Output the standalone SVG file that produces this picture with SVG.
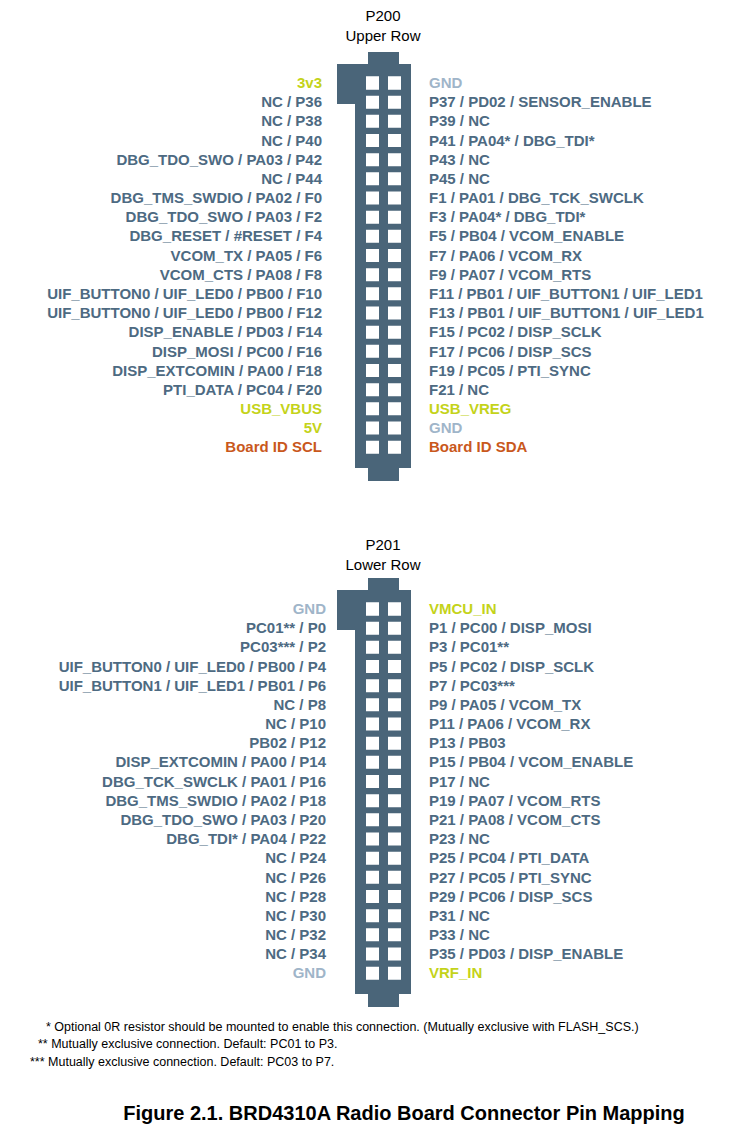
<svg xmlns="http://www.w3.org/2000/svg" width="738" height="1144" viewBox="0 0 738 1144">
<style>
text{font-family:"Liberation Sans",Arial,sans-serif}
.h{font-size:15px;fill:#000;text-anchor:middle}
.l{font-size:15px;font-weight:bold;fill:#4d6a82;text-anchor:end}
.r{font-size:15px;font-weight:bold;fill:#4d6a82}
.y{fill:#c4d31a}.g{fill:#9fb5c9}.o{fill:#c9581c}
.c{fill:#4a6579}.s{fill:#fff}
.f{font-size:12.5px;fill:#000}
.t{font-size:20px;font-weight:bold;fill:#000;text-anchor:middle}
</style>
<defs>
<g id="conn">
<path class="c" d="M368 0H399V12H411V416H399V429H368V416H355V52H337V12H368Z"/>
<g id="sq"><rect class="s" x="366" y="24.5" width="13" height="13"/><rect class="s" x="388" y="24.5" width="13" height="13"/></g>
</g>
</defs>
<g id="P200">
<text class="h" x="383" y="21">P200</text>
<text class="h" x="383" y="41">Upper Row</text>
<use href="#conn" y="52"/>
<g id="sq200"></g>
</g>
<g id="squares" class="s">
<rect x="366" y="76.5" width="13" height="13"/><rect x="388" y="76.5" width="13" height="13"/>
</g>
<g id="P201">
<text class="h" x="383" y="550">P201</text>
<text class="h" x="383" y="570">Lower Row</text>
<use href="#conn" y="578"/>
</g>
<g id="grid" class="s">
<path fill="#fff" d="
M366 95.7h13v13h-13zM388 95.7h13v13h-13z
M366 114.8h13v13h-13zM388 114.8h13v13h-13z
M366 134h13v13h-13zM388 134h13v13h-13z
M366 153.2h13v13h-13zM388 153.2h13v13h-13z
M366 172.3h13v13h-13zM388 172.3h13v13h-13z
M366 191.5h13v13h-13zM388 191.5h13v13h-13z
M366 210.7h13v13h-13zM388 210.7h13v13h-13z
M366 229.8h13v13h-13zM388 229.8h13v13h-13z
M366 249h13v13h-13zM388 249h13v13h-13z
M366 268.2h13v13h-13zM388 268.2h13v13h-13z
M366 287.3h13v13h-13zM388 287.3h13v13h-13z
M366 306.5h13v13h-13zM388 306.5h13v13h-13z
M366 325.7h13v13h-13zM388 325.7h13v13h-13z
M366 344.8h13v13h-13zM388 344.8h13v13h-13z
M366 364h13v13h-13zM388 364h13v13h-13z
M366 383.2h13v13h-13zM388 383.2h13v13h-13z
M366 402.3h13v13h-13zM388 402.3h13v13h-13z
M366 421.5h13v13h-13zM388 421.5h13v13h-13z
M366 440.7h13v13h-13zM388 440.7h13v13h-13z
"/>
<path fill="#fff" transform="translate(0,526)" d="
M366 76.5h13v13h-13zM388 76.5h13v13h-13z
M366 95.7h13v13h-13zM388 95.7h13v13h-13z
M366 114.8h13v13h-13zM388 114.8h13v13h-13z
M366 134h13v13h-13zM388 134h13v13h-13z
M366 153.2h13v13h-13zM388 153.2h13v13h-13z
M366 172.3h13v13h-13zM388 172.3h13v13h-13z
M366 191.5h13v13h-13zM388 191.5h13v13h-13z
M366 210.7h13v13h-13zM388 210.7h13v13h-13z
M366 229.8h13v13h-13zM388 229.8h13v13h-13z
M366 249h13v13h-13zM388 249h13v13h-13z
M366 268.2h13v13h-13zM388 268.2h13v13h-13z
M366 287.3h13v13h-13zM388 287.3h13v13h-13z
M366 306.5h13v13h-13zM388 306.5h13v13h-13z
M366 325.7h13v13h-13zM388 325.7h13v13h-13z
M366 344.8h13v13h-13zM388 344.8h13v13h-13z
M366 364h13v13h-13zM388 364h13v13h-13z
M366 383.2h13v13h-13zM388 383.2h13v13h-13z
M366 402.3h13v13h-13zM388 402.3h13v13h-13z
M366 421.5h13v13h-13zM388 421.5h13v13h-13z
M366 440.7h13v13h-13zM388 440.7h13v13h-13z
"/>
</g>
<g id="labels200">
<text class="l y" x="322" y="88">3v3</text><text class="r g" x="429" y="88">GND</text>
<text class="l" x="322" y="107">NC / P36</text><text class="r" x="429" y="107">P37 / PD02 / SENSOR_ENABLE</text>
<text class="l" x="322" y="126">NC / P38</text><text class="r" x="429" y="126">P39 / NC</text>
<text class="l" x="322" y="145.5">NC / P40</text><text class="r" x="429" y="145.5">P41 / PA04* / DBG_TDI*</text>
<text class="l" x="322" y="164.5">DBG_TDO_SWO / PA03 / P42</text><text class="r" x="429" y="164.5">P43 / NC</text>
<text class="l" x="322" y="184">NC / P44</text><text class="r" x="429" y="184">P45 / NC</text>
<text class="l" x="322" y="203">DBG_TMS_SWDIO / PA02 / F0</text><text class="r" x="429" y="203">F1 / PA01 / DBG_TCK_SWCLK</text>
<text class="l" x="322" y="222">DBG_TDO_SWO / PA03 / F2</text><text class="r" x="429" y="222">F3 / PA04* / DBG_TDI*</text>
<text class="l" x="322" y="241">DBG_RESET / #RESET / F4</text><text class="r" x="429" y="241">F5 / PB04 / VCOM_ENABLE</text>
<text class="l" x="322" y="260.5">VCOM_TX / PA05 / F6</text><text class="r" x="429" y="260.5">F7 / PA06 / VCOM_RX</text>
<text class="l" x="322" y="279.5">VCOM_CTS / PA08 / F8</text><text class="r" x="429" y="279.5">F9 / PA07 / VCOM_RTS</text>
<text class="l" x="322" y="299">UIF_BUTTON0 / UIF_LED0 / PB00 / F10</text><text class="r" x="429" y="299">F11 / PB01 / UIF_BUTTON1 / UIF_LED1</text>
<text class="l" x="322" y="318">UIF_BUTTON0 / UIF_LED0 / PB00 / F12</text><text class="r" x="429" y="318">F13 / PB01 / UIF_BUTTON1 / UIF_LED1</text>
<text class="l" x="322" y="337">DISP_ENABLE / PD03 / F14</text><text class="r" x="429" y="337">F15 / PC02 / DISP_SCLK</text>
<text class="l" x="322" y="356.5">DISP_MOSI / PC00 / F16</text><text class="r" x="429" y="356.5">F17 / PC06 / DISP_SCS</text>
<text class="l" x="322" y="375.5">DISP_EXTCOMIN / PA00 / F18</text><text class="r" x="429" y="375.5">F19 / PC05 / PTI_SYNC</text>
<text class="l" x="322" y="395">PTI_DATA / PC04 / F20</text><text class="r" x="429" y="395">F21 / NC</text>
<text class="l y" x="322" y="414">USB_VBUS</text><text class="r y" x="429" y="414">USB_VREG</text>
<text class="l y" x="322" y="433">5V</text><text class="r g" x="429" y="433">GND</text>
<text class="l o" x="322" y="452">Board ID SCL</text><text class="r o" x="429" y="452">Board ID SDA</text>
</g>
<g id="labels201" transform="translate(0,526)">
<text class="l g" x="326" y="88">GND</text><text class="r y" x="429" y="88">VMCU_IN</text>
<text class="l" x="326" y="107">PC01** / P0</text><text class="r" x="429" y="107">P1 / PC00 / DISP_MOSI</text>
<text class="l" x="326" y="126">PC03*** / P2</text><text class="r" x="429" y="126">P3 / PC01**</text>
<text class="l" x="326" y="145.5">UIF_BUTTON0 / UIF_LED0 / PB00 / P4</text><text class="r" x="429" y="145.5">P5 / PC02 / DISP_SCLK</text>
<text class="l" x="326" y="164.5">UIF_BUTTON1 / UIF_LED1 / PB01 / P6</text><text class="r" x="429" y="164.5">P7 / PC03***</text>
<text class="l" x="326" y="184">NC / P8</text><text class="r" x="429" y="184">P9 / PA05 / VCOM_TX</text>
<text class="l" x="326" y="203">NC / P10</text><text class="r" x="429" y="203">P11 / PA06 / VCOM_RX</text>
<text class="l" x="326" y="222">PB02 / P12</text><text class="r" x="429" y="222">P13 / PB03</text>
<text class="l" x="326" y="241">DISP_EXTCOMIN / PA00 / P14</text><text class="r" x="429" y="241">P15 / PB04 / VCOM_ENABLE</text>
<text class="l" x="326" y="260.5">DBG_TCK_SWCLK / PA01 / P16</text><text class="r" x="429" y="260.5">P17 / NC</text>
<text class="l" x="326" y="279.5">DBG_TMS_SWDIO / PA02 / P18</text><text class="r" x="429" y="279.5">P19 / PA07 / VCOM_RTS</text>
<text class="l" x="326" y="299">DBG_TDO_SWO / PA03 / P20</text><text class="r" x="429" y="299">P21 / PA08 / VCOM_CTS</text>
<text class="l" x="326" y="318">DBG_TDI* / PA04 / P22</text><text class="r" x="429" y="318">P23 / NC</text>
<text class="l" x="326" y="337">NC / P24</text><text class="r" x="429" y="337">P25 / PC04 / PTI_DATA</text>
<text class="l" x="326" y="356.5">NC / P26</text><text class="r" x="429" y="356.5">P27 / PC05 / PTI_SYNC</text>
<text class="l" x="326" y="375.5">NC / P28</text><text class="r" x="429" y="375.5">P29 / PC06 / DISP_SCS</text>
<text class="l" x="326" y="395">NC / P30</text><text class="r" x="429" y="395">P31 / NC</text>
<text class="l" x="326" y="414">NC / P32</text><text class="r" x="429" y="414">P33 / NC</text>
<text class="l" x="326" y="433">NC / P34</text><text class="r" x="429" y="433">P35 / PD03 / DISP_ENABLE</text>
<text class="l g" x="326" y="452">GND</text><text class="r y" x="429" y="452">VRF_IN</text>
</g>
<g id="notes">
<text class="f" x="46" y="1031">* Optional 0R resistor should be mounted to enable this connection. (Mutually exclusive with FLASH_SCS.)</text>
<text class="f" x="38" y="1048">** Mutually exclusive connection. Default: PC01 to P3.</text>
<text class="f" x="30" y="1066">*** Mutually exclusive connection. Default: PC03 to P7.</text>
<text class="t" x="404" y="1120">Figure 2.1.  BRD4310A Radio Board Connector Pin Mapping</text>
</g>
</svg>
